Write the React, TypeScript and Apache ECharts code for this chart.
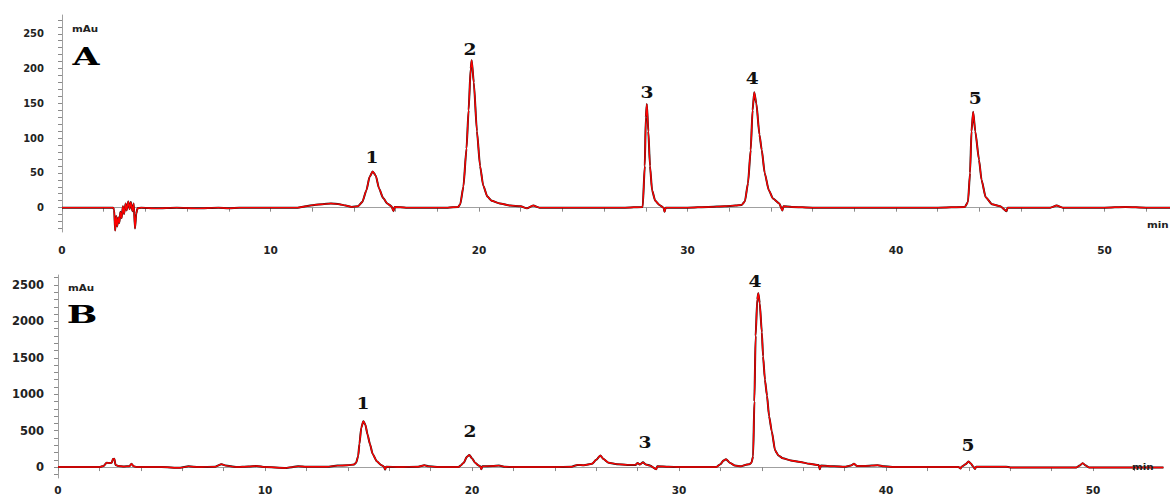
import React, { useEffect, useRef } from "react";
import * as echarts from "echarts";

// ---- data ----
const xLabelValues = [0, 10, 20, 30, 40, 50];
const xTickValues = [0, 2, 4, 6, 8, 10, 12, 14, 16, 18, 20, 22, 24, 26, 28, 30, 32, 34, 36, 38, 40, 42, 44, 46, 48, 50, 52];
const yLabelsA = [0, 50, 100, 150, 200, 250];
const yTicksA = [-30, -20, -10, 0, 10, 20, 30, 40, 50, 60, 70, 80, 90, 100, 110, 120, 130, 140, 150, 160, 170, 180, 190, 200, 210, 220, 230, 240, 250, 260, 270];
const yLabelsB = [0, 500, 1000, 1500, 2000, 2500];
const yTicksB = [-100, 0, 100, 200, 300, 400, 500, 600, 700, 800, 900, 1000, 1100, 1200, 1300, 1400, 1500, 1600, 1700, 1800, 1900, 2000, 2100, 2200, 2300, 2400, 2500, 2600];

// chromatogram A: [time (min), absorbance (mAu)]
const traceA: number[][] = [
  [0, 0], [1, 0], [2, 0], [2.45, 0], [2.5, -3], [2.55, -33], [2.6, -12], [2.65, -27], [2.7, -14], [2.75, -22],
  [2.8, -6], [2.86, -15], [2.92, 2], [2.98, -9], [3.05, 6], [3.1, -4], [3.18, 9], [3.24, -2], [3.3, 8], [3.38, -5],
  [3.44, 6], [3.5, -30], [3.56, -9], [3.62, -1], [3.8, 0], [4.5, -1], [5.5, 0], [6.5, -1], [7.5, 0], [8, -1],
  [8.5, 0], [9.5, 0], [10.5, 0], [11.3, 0], [11.7, 2], [12.1, 4], [12.5, 5], [12.9, 6], [13.3, 5], [13.6, 3],
  [13.9, 1], [14.2, 2], [14.4, 8], [14.6, 25], [14.75, 44], [14.9, 52], [15.05, 46], [15.2, 28], [15.4, 14], [15.6, 6],
  [15.8, 2], [15.9, -5], [15.95, 1], [16.5, 0], [17.5, 0], [18.5, 0], [19.0, 1], [19.1, 5], [19.25, 30], [19.4, 85],
  [19.5, 140], [19.6, 200], [19.65, 212], [19.75, 180], [19.9, 110], [20.05, 60], [20.2, 32], [20.4, 16], [20.6, 10], [21.0, 6],
  [21.5, 3], [22.0, 2], [22.3, -1], [22.6, 3], [22.9, 0], [24, 0], [25, 0], [26, 0], [27, 0], [27.85, 1],
  [27.95, 60], [28.0, 130], [28.05, 149], [28.12, 110], [28.2, 60], [28.3, 25], [28.45, 10], [28.65, 4], [28.85, 0], [28.9, -6],
  [28.95, 0], [30, 0], [31, 1], [31.8, 2], [32.3, 3], [32.6, 4], [32.75, 9], [32.9, 35], [33.03, 83], [33.12, 140],
  [33.2, 166], [33.3, 150], [33.45, 105], [33.56, 83], [33.7, 50], [33.9, 25], [34.1, 13], [34.4, 6], [34.55, -4], [34.6, 2],
  [35, 1], [36, 0], [38, 0], [40, 0], [42, 0], [43.3, 1], [43.45, 8], [43.55, 50], [43.62, 110], [43.7, 138],
  [43.8, 110], [43.98, 69], [44.1, 40], [44.3, 15], [44.6, 5], [45.0, 2], [45.3, -5], [45.35, 0], [46, 0], [47.4, 0],
  [47.7, 3], [48, 0], [50, 0], [51, 1], [52, 0], [53.2, 0],
];

// chromatogram B
const traceB: number[][] = [
  [0, 0], [1, 0], [2, 0], [2.2, 15], [2.35, 60], [2.5, 55], [2.6, 60], [2.65, 110], [2.72, 115], [2.78, 30],
  [2.9, 15], [3.2, 8], [3.45, 12], [3.55, 45], [3.65, 12], [3.8, 0], [5, 0], [5.9, -10], [6.3, 10], [6.8, 0],
  [7.6, 5], [7.9, 40], [8.1, 20], [8.6, 0], [9.2, 8], [9.6, 15], [10, 0], [11, -12], [11.6, 10], [12, 5],
  [13, 5], [13.5, 20], [14.0, 25], [14.3, 35], [14.4, 60], [14.5, 150], [14.56, 315], [14.65, 540], [14.75, 629], [14.85, 580],
  [14.95, 450], [15.07, 315], [15.2, 180], [15.4, 80], [15.6, 30], [15.75, 5], [15.8, -35], [15.85, 5], [16.5, 0], [17.4, 5],
  [17.7, 25], [17.9, 10], [18.5, 0], [19.35, 0], [19.45, 20], [19.6, 60], [19.75, 140], [19.87, 167], [20.0, 120], [20.15, 60],
  [20.3, 25], [20.4, 10], [20.45, -30], [20.5, 10], [21, 15], [21.3, 20], [21.6, 5], [22, 0], [23, 0], [24, 0],
  [24.8, 5], [25.1, 30], [25.4, 25], [25.8, 45], [26.0, 100], [26.2, 159], [26.35, 110], [26.6, 60], [27, 40], [27.5, 30],
  [27.9, 30], [28.0, 55], [28.1, 35], [28.26, 65], [28.4, 35], [28.6, 20], [28.9, -30], [28.95, 10], [29.5, 5], [30, 0],
  [31, 0], [31.8, 0], [32.0, 40], [32.15, 90], [32.27, 109], [32.45, 60], [32.7, 20], [33.0, 10], [33.2, 30], [33.4, 40],
  [33.5, 60], [33.58, 150], [33.64, 900], [33.7, 1800], [33.78, 2300], [33.83, 2387], [33.9, 2250], [34.0, 1850], [34.06, 1520], [34.15, 1200],
  [34.25, 980], [34.35, 700], [34.48, 490], [34.64, 230], [34.8, 160], [35.02, 120], [35.4, 90], [35.85, 70], [36.3, 45], [36.75, 27],
  [36.8, -30], [36.85, 20], [37.5, 10], [38, 5], [38.3, 20], [38.45, 45], [38.6, 15], [39, 15], [39.6, 25], [39.9, 10],
  [40.5, 0], [42, 0], [43.5, 0], [43.6, -20], [43.65, 5], [43.85, 40], [43.98, 77], [44.1, 50], [44.2, 10], [44.3, -25],
  [44.35, 5], [45, 5], [45.8, 5], [46, -5], [47, -5], [49.2, -5], [49.35, 20], [49.5, 54], [49.65, 20], [49.8, -5],
  [51, -5], [53.4, -5],
];

const peakNames = ["1", "2", "3", "4", "5"];
// label anchor positions [time, mAu]
const peakLabelPosA: number[][] = [[14.87, 73], [19.57, 228], [28.06, 167], [33.1, 187], [43.8, 158]];
const peakLabelPosB: number[][] = [[14.73, 883], [19.9, 503], [28.36, 353], [33.67, 2554], [43.96, 312]];

const SANS = "'DejaVu Sans', sans-serif";
const SERIF = "'DejaVu Serif', serif";

function xAxisCfg(gridIndex: number, max: number, offset: number, margin: number) {
  return {
    type: "value" as const,
    gridIndex,
    min: 0,
    max,
    offset,
    axisLine: { show: true, lineStyle: { color: "#a0a0a0", width: 1 } },
    axisTick: { show: true, length: 4, customValues: xTickValues, lineStyle: { color: "#8a8a8a" } },
    axisLabel: {
      show: true,
      customValues: xLabelValues,
      formatter: (v: number) => String(v),
      margin,
      color: "#222",
      fontFamily: SANS,
      fontWeight: "bold" as const,
      fontSize: 10.5,
    },
    splitLine: { show: false },
  };
}

function yAxisCfg(gridIndex: number, min: number, max: number, offset: number, labels: number[], ticks: number[], fontSize: number) {
  return {
    type: "value" as const,
    gridIndex,
    min,
    max,
    offset,
    axisLine: { show: true, lineStyle: { color: "#a0a0a0", width: 1 } },
    axisTick: { show: true, length: 4, customValues: ticks, lineStyle: { color: "#8a8a8a" } },
    axisLabel: {
      show: true,
      customValues: labels,
      formatter: (v: number) => String(v),
      margin: 8,
      color: "#222",
      fontFamily: SANS,
      fontWeight: "bold" as const,
      fontSize,
    },
    splitLine: { show: false },
  };
}

function traceSeries(data: number[][], idx: number) {
  return [
    {
      type: "line" as const,
      xAxisIndex: idx,
      yAxisIndex: idx,
      data,
      showSymbol: false,
      smooth: 0.2,
      smoothMonotone: "x" as const,
      lineStyle: { color: "#1a1a1a", width: 2 },
      z: 2,
      silent: true,
    },
    {
      type: "line" as const,
      xAxisIndex: idx,
      yAxisIndex: idx,
      data,
      showSymbol: false,
      smooth: 0.2,
      smoothMonotone: "x" as const,
      lineStyle: { color: "#ff0000", width: 1.4 },
      z: 3,
      silent: true,
    },
  ];
}

export default function App() {
  const ref = useRef<HTMLDivElement>(null);

  useEffect(() => {
    if (!ref.current) return;
    const chart = echarts.init(ref.current, null, { renderer: "svg" });
    const maxA = 53.14;
    const maxB = 53.38;
    const option: any = {
      animation: false,
      backgroundColor: "#ffffff",
      grid: [
        { left: 62, right: 0, top: 15, height: 217 },
        { left: 58, right: 7, top: 275, height: 205 },
      ],
      xAxis: [xAxisCfg(0, maxA, 5, 7), xAxisCfg(1, maxB, 0, 6)],
      yAxis: [
        yAxisCfg(0, -35, 277, 10, yLabelsA, yTicksA, 10),
        yAxisCfg(1, -150, 2636, 6, yLabelsB, yTicksB, 11.5),
      ],
      series: [...traceSeries(traceA, 0), ...traceSeries(traceB, 1)],
    };
    chart.setOption(option);

    const graphics: any[] = [];
    const addPeakLabels = (pos: number[][], gridIndex: number) => {
      pos.forEach((p, i) => {
        const px = chart.convertToPixel({ gridIndex } as any, p) as unknown as number[];
        graphics.push({
          type: "text",
          x: px[0],
          y: px[1],
          scaleX: 1.1,
          z: 10,
          style: {
            text: peakNames[i],
            font: `bold 17px ${SERIF}`,
            fill: "#111",
            textAlign: "center",
            textVerticalAlign: "middle",
          },
        });
      });
    };
    addPeakLabels(peakLabelPosA, 0);
    addPeakLabels(peakLabelPosB, 1);

    const panelText = (text: string, x: number, y: number, size: number) => ({
      type: "text",
      x,
      y,
      scaleX: 1.45,
      z: 10,
      style: {
        text,
        font: `bold ${size}px ${SERIF}`,
        fill: "#000",
        textAlign: "center",
        textVerticalAlign: "middle",
      },
    });
    const smallText = (text: string, x: number, y: number, align: string) => ({
      type: "text",
      x,
      y,
      scaleX: 1.15,
      z: 10,
      style: {
        text,
        font: `bold 9px ${SANS}`,
        fill: "#222",
        textAlign: align,
        textVerticalAlign: "middle",
      },
    });
    graphics.push(panelText("A", 86, 57, 24));
    graphics.push(panelText("B", 82, 314, 25));
    graphics.push(smallText("mAu", 85, 29, "center"));
    graphics.push(smallText("mAu", 81, 288, "center"));
    graphics.push(smallText("min", 1147, 225, "left"));
    graphics.push(smallText("min", 1132, 467, "left"));

    chart.setOption({ graphic: graphics });

    return () => {
      chart.dispose();
    };
  }, []);

  return (
    <div
      ref={ref}
      style={{ position: "fixed", left: 0, top: 0, width: 1170, height: 495, background: "#fff" }}
    />
  );
}
